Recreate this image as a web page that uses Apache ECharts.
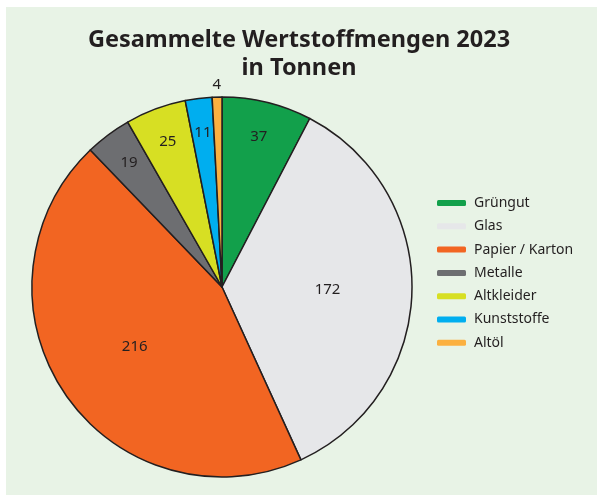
<!DOCTYPE html>
<html>
<head>
<meta charset="utf-8">
<script src="https://cdn.jsdelivr.net/npm/echarts@6/dist/echarts.min.js"></script>
<style>
html,body{margin:0;padding:0;background:#fff;}
#chart{width:597px;height:495px;}
</style>
</head>
<body>
<div id="chart"></div>
<script>
const categories = ['Grüngut', 'Glas', 'Papier / Karton', 'Metalle', 'Altkleider', 'Kunststoffe', 'Altöl'];
const values = [37, 172, 216, 19, 25, 11, 4];
const colors = ['#12a04b', '#e6e7e9', '#f26522', '#6d6e71', '#d7df23', '#00aeef', '#fbb040'];
const titleLines = ['Gesammelte Wertstoffmengen 2023', 'in Tonnen'];

const FONT = '"Noto Sans", "Open Sans", sans-serif';
const TXT = '#231f20';
const R = 190;
const CENTER = [222, 287];

function labelGroup(v) {
  if (v >= 100) return 'mid';
  if (v >= 10) return 'rim';
  return 'out';
}

function dataFor(group, visible) {
  return categories.map((c, i) => ({
    name: c,
    value: values[i],
    itemStyle: visible ? { color: colors[i] } : { color: 'rgba(0,0,0,0)', borderWidth: 0 },
    label: { show: labelGroup(values[i]) === group }
  }));
}

const labelStyle = {
  position: 'inside',
  formatter: '{c}',
  color: TXT,
  fontSize: 15,
  fontFamily: FONT,
  textBorderWidth: 0
};

function overlay(radius, group) {
  return {
    type: 'pie',
    center: CENTER,
    radius: [0, radius],
    startAngle: 90,
    clockwise: true,
    silent: true,
    legendHoverLink: false,
    avoidLabelOverlap: false,
    z: 5,
    animation: false,
    label: labelStyle,
    labelLine: { show: false },
    emphasis: { disabled: true },
    data: dataFor(group, false)
  };
}

const chart = echarts.init(document.getElementById('chart'), null, { renderer: 'canvas' });
chart.setOption({
  animation: false,
  backgroundColor: '#ffffff',
  graphic: [{
    type: 'rect',
    z: -10,
    shape: { x: 6, y: 7, width: 591, height: 488 },
    style: { fill: '#e8f3e6' }
  }],
  title: {
    text: titleLines.join('\n'),
    left: 294,
    textAlign: 'center',
    top: 21,
    textStyle: {
      fontFamily: FONT,
      fontWeight: 'bold',
      fontSize: 23.5,
      lineHeight: 28,
      color: TXT
    }
  },
  legend: {
    orient: 'vertical',
    left: 432,
    top: 190,
    icon: 'roundRect',
    itemWidth: 29,
    itemHeight: 6,
    itemGap: 7.3,
    itemStyle: { borderWidth: 0 },
    data: categories.map((c, i) => ({ name: c, itemStyle: { color: colors[i], borderWidth: 0 } })),
    textStyle: {
      fontFamily: FONT,
      fontSize: 14,
      lineHeight: 16,
      color: TXT,
      padding: [0, 0, 0, 3]
    }
  },
  series: [
    {
      type: 'pie',
      center: CENTER,
      radius: [0, R],
      startAngle: 90,
      clockwise: true,
      avoidLabelOverlap: false,
      itemStyle: { borderColor: TXT, borderWidth: 1.5 },
      label: { show: false },
      labelLine: { show: false },
      emphasis: { scale: false },
      data: categories.map((c, i) => ({ name: c, value: values[i], itemStyle: { color: colors[i] } }))
    },
    overlay(R * 1.08, 'mid'),
    overlay(R * 1.6, 'rim'),
    overlay(R * 2.1, 'out')
  ]
});
</script>
</body>
</html>
